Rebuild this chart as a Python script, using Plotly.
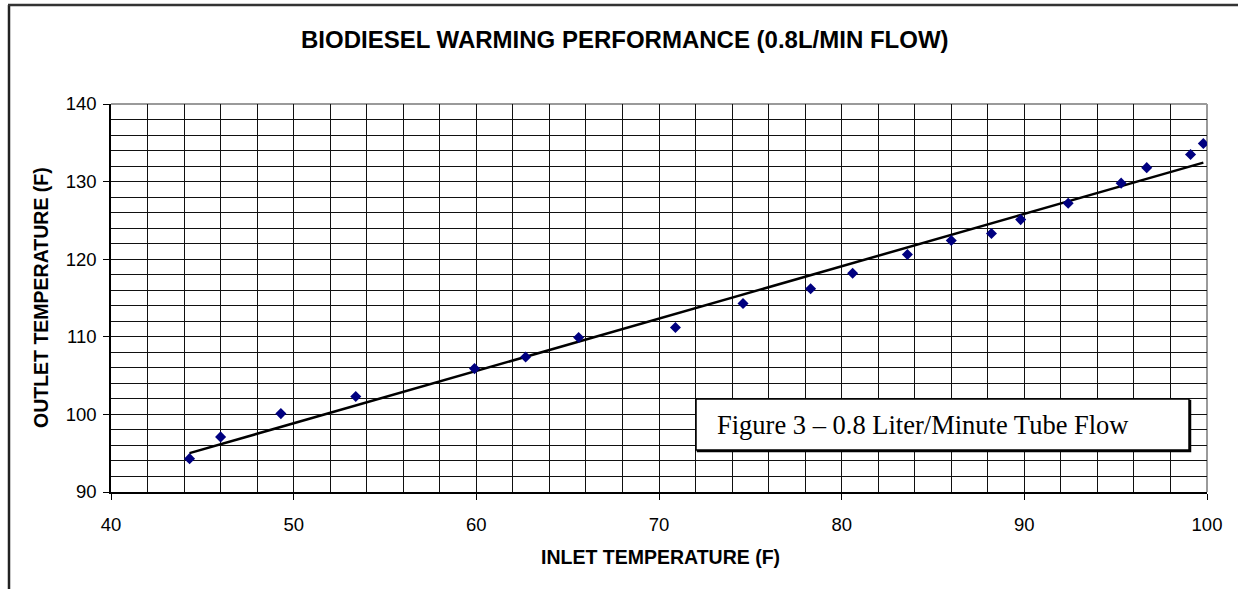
import numpy as np
import plotly.graph_objects as go

# Data
inlet_temp = [44.3, 46.0, 49.3, 53.4, 59.9, 62.7, 65.6, 70.9, 74.6, 78.3,
              80.6, 83.6, 86.0, 88.2, 89.8, 92.4, 95.3, 96.7, 99.1, 99.8]
outlet_temp = [94.3, 97.1, 100.1, 102.3, 105.9, 107.4, 109.9, 111.2, 114.3, 116.2,
               118.2, 120.6, 122.4, 123.3, 125.1, 127.2, 129.8, 131.8, 133.5, 134.9]

x_ticks = [40, 50, 60, 70, 80, 90, 100]
y_ticks = [90, 100, 110, 120, 130, 140]

title_text = "BIODIESEL WARMING PERFORMANCE (0.8L/MIN FLOW)"
x_title = "INLET TEMPERATURE (F)"
y_title = "OUTLET TEMPERATURE (F)"
box_text = "Figure 3 \u2013 0.8 Liter/Minute Tube Flow"

# Linear trendline (as Excel does) fitted to the data
slope, intercept = np.polyfit(inlet_temp, outlet_temp, 1)
trend_x = [min(inlet_temp), max(inlet_temp)]
trend_y = [slope * v + intercept for v in trend_x]

W, H = 1238, 589
L, R, T, B = 111, 31, 104, 97
PW, PH = W - L - R, H - T - B


def px(xp):
    return (xp - L) / PW


def py(yp):
    return (H - B - yp) / PH


fig = go.Figure()
fig.add_trace(go.Scatter(x=trend_x, y=trend_y, mode="lines",
                         line=dict(color="black", width=2.5),
                         hoverinfo="skip", showlegend=False))
fig.add_trace(go.Scatter(x=inlet_temp, y=outlet_temp, mode="markers",
                         marker=dict(symbol="diamond", size=8.5, color="#000080",
                                     line=dict(width=0)),
                         showlegend=False))

axis_font = dict(family="Liberation Sans, Arial, sans-serif", size=18.5, color="black")

fig.update_xaxes(range=[40, 100], tickvals=x_ticks, showgrid=True,
                 gridcolor="#111", gridwidth=1,
                 minor=dict(dtick=2, showgrid=True, gridcolor="#111", gridwidth=1, ticks=""),
                 showline=True, linecolor="black", linewidth=1.5,
                 ticks="outside", ticklen=6, tickcolor="black", tickwidth=1,
                 tickfont=axis_font, ticklabelstandoff=9, zeroline=False)
fig.update_yaxes(range=[90, 140], tickvals=y_ticks, showgrid=True,
                 gridcolor="#111", gridwidth=1,
                 minor=dict(dtick=2, showgrid=True, gridcolor="#111", gridwidth=1, ticks=""),
                 showline=True, linecolor="black", linewidth=1.5,
                 ticks="outside", ticklen=6, tickcolor="black", tickwidth=1,
                 tickfont=axis_font, ticklabelstandoff=3, zeroline=False)

shapes = [
    # plot-area top / right border (gray)
    dict(type="line", xref="paper", yref="paper", x0=0, x1=1, y0=1, y1=1,
         line=dict(color="#9a9a9a", width=2), layer="between"),
    dict(type="line", xref="paper", yref="paper", x0=1, x1=1, y0=0, y1=1,
         line=dict(color="#9a9a9a", width=2), layer="between"),
    # outer chart frame (left and top edges visible)
    dict(type="line", xref="paper", yref="paper", x0=px(9), x1=px(9), y0=py(600), y1=py(5),
         line=dict(color="#222", width=2.5)),
    dict(type="line", xref="paper", yref="paper", x0=px(8), x1=px(1250), y0=py(5), y1=py(5),
         line=dict(color="#333", width=2.5)),
    # text box shadow and box
    dict(type="rect", xref="paper", yref="paper", x0=px(697.5), x1=px(1190.5), y0=py(451.5), y1=py(400.5),
         line=dict(color="black", width=1.5), fillcolor="black", layer="above"),
    dict(type="rect", xref="paper", yref="paper", x0=px(696), x1=px(1189), y0=py(450), y1=py(399),
         line=dict(color="black", width=1.5), fillcolor="white", layer="above"),
]

annotations = [
    dict(text="<b>" + title_text + "</b>", xref="paper", yref="paper",
         x=px(625), y=py(40), xanchor="center", yanchor="middle", showarrow=False,
         font=dict(family="Liberation Sans, Arial, sans-serif", size=24, color="black")),
    dict(text="<b>" + x_title + "</b>", xref="paper", yref="paper",
         x=px(660), y=py(557), xanchor="center", yanchor="middle", showarrow=False,
         font=dict(family="Liberation Sans, Arial, sans-serif", size=19.5, color="black")),
    dict(text="<b>" + y_title + "</b>", xref="paper", yref="paper",
         x=px(41), y=py(298), xanchor="center", yanchor="middle", showarrow=False,
         textangle=-90,
         font=dict(family="Liberation Sans, Arial, sans-serif", size=19.5, color="black")),
    dict(text=box_text, xref="paper", yref="paper",
         x=px(923), y=py(425), xanchor="center", yanchor="middle", showarrow=False,
         font=dict(family="Liberation Serif, Times New Roman, serif", size=26.5, color="black")),
]

fig.update_layout(width=W, height=H, margin=dict(l=L, r=R, t=T, b=B, autoexpand=False),
                  paper_bgcolor="white", plot_bgcolor="white",
                  shapes=shapes, annotations=annotations, showlegend=False)

fig.write_html("out.html", config={"displayModeBar": False},
               post_script="document.body.style.margin='0';document.body.style.overflow='hidden';")
